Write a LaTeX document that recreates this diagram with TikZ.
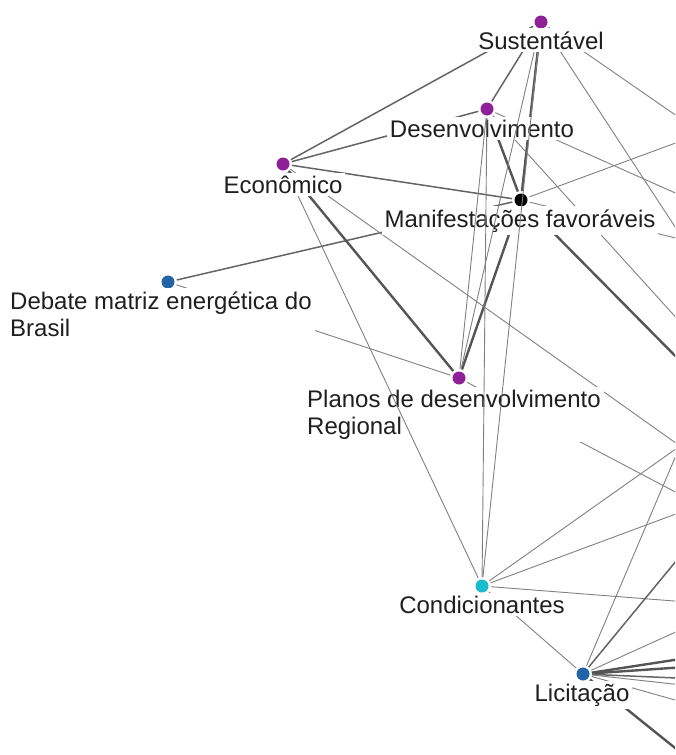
\documentclass[tikz,border=0pt]{standalone}
\usepackage{fontspec}
\setmainfont{Liberation Sans}
\definecolor{roxo}{RGB}{142,32,152}
\definecolor{azul}{RGB}{35,100,168}
\definecolor{ciano}{RGB}{25,188,204}
\definecolor{fio}{RGB}{128,128,128}
\definecolor{fiom}{RGB}{100,100,100}
\definecolor{fiog}{RGB}{85,85,85}
\begin{document}
\begin{tikzpicture}[x=1pt,y=-1pt,
  lnk/.style={draw=fio, line width=0.9pt},
  lnkm/.style={draw=fiom, line width=1.5pt},
  lnkg/.style={draw=fiog, line width=2.4pt},
  lbl/.style={fill=white, inner sep=3pt, text=black!88, font=\fontsize{24}{27}\selectfont},
  dot/.style={circle, fill=#1, inner sep=0pt, minimum size=13pt, outer sep=2.5pt}]
\useasboundingbox (0,0) rectangle (675,755);
\clip (0,0) rectangle (675,755);
\node[dot=roxo] (sus) at (541,22) {};
\node[dot=roxo] (des) at (487,109) {};
\node[dot=roxo] (eco) at (283,164) {};
\node[dot=black] (man) at (521,200) {};
\node[dot=azul] (deb) at (168,282) {};
\node[dot=roxo] (pla) at (459,378) {};
\node[dot=ciano] (con) at (482,586) {};
\node[dot=azul] (lic) at (583,674) {};
\coordinate (o1) at (700,132);
\coordinate (o2) at (700,265);
\coordinate (o3) at (700,204);
\coordinate (o4) at (700,344);
\coordinate (o5) at (700,134);
\coordinate (o6) at (700,381);
\coordinate (o7) at (700,244);
\coordinate (o8) at (680,446);
\coordinate (o9) at (700,505);
\coordinate (o10) at (700,603);
\coordinate (o11) at (700,532);
\coordinate (o12) at (700,621);
\coordinate (o13) at (700,656);
\coordinate (o14) at (700,666);
\coordinate (o15) at (700,679);
\coordinate (o16) at (700,687);
\coordinate (o17) at (700,707);
\coordinate (o18) at (700,768);
\draw[lnkm] (sus) -- (eco);
\draw[lnkm] (sus) -- (des);
\draw[lnkg] (sus) -- (man);
\draw[lnkm] (des) -- (eco);
\draw[lnkg] (des) -- (man);
\draw[lnkm] (eco) -- (man);
\draw[lnkm] (deb) -- (man);
\draw[lnkg] (eco) -- (pla);
\draw[lnkg] (man) -- (pla);
\draw[lnk] (deb) -- (pla);
\draw[lnk] (pla) -- (o9);
\draw[lnk] (sus) -- (o1);
\draw[lnk] (sus) -- (o2);
\draw[lnk] (des) -- (o3);
\draw[lnk] (des) -- (o4);
\draw[lnk] (man) -- (o5);
\draw[lnkg] (man) -- (o6);
\draw[lnk] (man) -- (o7);
\draw[lnk] (eco) -- (o8);
\node[lbl, anchor=base] (desl) at (482,137) {Desenvolvimento};
\node[lbl, anchor=base] (manl) at (520,227) {Manifestações favoráveis};
\node[lbl, anchor=base west, align=left] (plal) at (304,434) {Planos de desenvolvimento\\Regional};
\draw[lnk] (sus) -- (pla);
\draw[lnk] (des) -- (pla);
\draw[lnk] (sus) -- (con);
\draw[lnk] (des) -- (con);
\draw[lnk] (eco) -- (con);
\draw[lnk] (con) -- (lic);
\draw[lnk] (con) -- (o8);
\draw[lnk] (con) -- (o9);
\draw[lnk] (con) -- (o10);
\draw[lnk] (lic) -- (o8);
\draw[lnkm] (lic) -- (o11);
\draw[lnk] (lic) -- (o12);
\draw[lnkg] (lic) -- (o13);
\draw[lnkg] (lic) -- (o14);
\draw[lnkm] (lic) -- (o15);
\draw[lnk] (lic) -- (o16);
\draw[lnk] (lic) -- (o17);
\draw[lnkg] (lic) -- (o18);
\node[lbl, anchor=base] (susl) at (541,49) {Sustentável};
\node[lbl, anchor=base] (ecol) at (283,193) {Econômico};
\node[lbl, anchor=base west, align=left] (debl) at (7,336) {Debate matriz energética do\\Brasil};
\node[lbl, anchor=base] (conl) at (482,613) {Condicionantes};
\node[lbl, anchor=base] (licl) at (582,701) {Licitação};
\end{tikzpicture}
\end{document}
